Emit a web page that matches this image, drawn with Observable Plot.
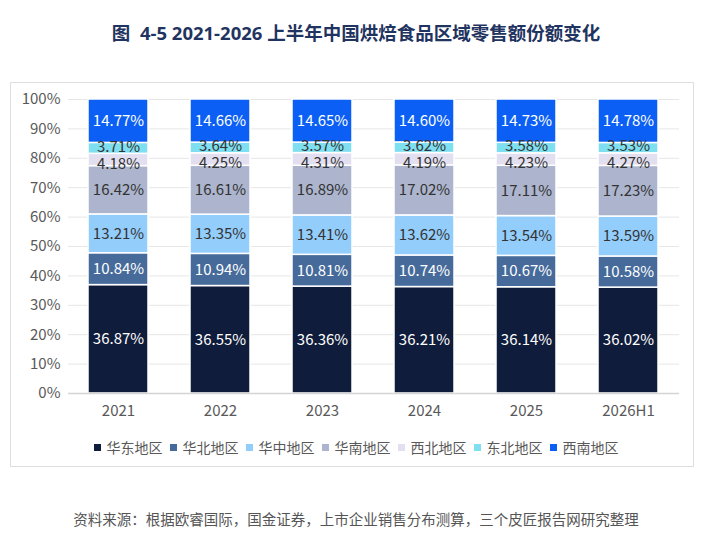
<!DOCTYPE html>
<html>
<head>
<meta charset="utf-8">
<script src="https://cdn.jsdelivr.net/npm/d3@7"></script>
<script src="https://cdn.jsdelivr.net/npm/@observablehq/plot@0.6"></script>
<style>
  body { margin: 0; background: #fff; }
  #page { position: relative; width: 712px; height: 544px; font-family: "Noto Sans CJK SC", sans-serif; }
  #title { position: absolute; top: 20px; left: 0; width: 712px; text-align: center; font-family: "Open Sans", "Noto Sans CJK SC", sans-serif; font-weight: 700; font-size: 18.5px; color: #1f3460; line-height: 26px; }
  #box { position: absolute; left: 10px; top: 82px; width: 684px; height: 385px; border: 1.5px solid #dedede; box-sizing: border-box; }
  #chart { position: absolute; left: 0; top: 82px; }
  #legend { position: absolute; top: 436px; left: 0; width: 712px; display: flex; justify-content: center; font-size: 14px; color: #595959; line-height: 22px; }
  #legend .item { display: flex; align-items: center; margin: 0 3.5px; }
  #legend .sw { width: 7px; height: 7px; margin-right: 6px; }
  #source { position: absolute; top: 508px; left: 0; width: 712px; text-align: center; font-size: 14.5px; color: #555; line-height: 22px; }
</style>
</head>
<body>
<div id="page">
  <div id="title">图&nbsp; 4-5 2021-2026 上半年中国烘焙食品区域零售额份额变化</div>
  <div id="box"></div>
  <div id="chart"></div>
  <div id="legend"></div>
  <div id="source">资料来源：根据欧睿国际，国金证券，上市企业销售分布测算，三个皮匠报告网研究整理</div>
</div>
<script>
const years = ["2021", "2022", "2023", "2024", "2025", "2026H1"];
const regions = ["华东地区", "华北地区", "华中地区", "华南地区", "西北地区", "东北地区", "西南地区"];
const colors = ["#0f1c3b", "#466b9b", "#93cdfb", "#acb5cd", "#e2dff0", "#7ddff0", "#0b5ff4"];
const darkRegions = ["华东地区", "华北地区", "西南地区"];

const east      = [36.87, 36.55, 36.36, 36.21, 36.14, 36.02];
const north     = [10.84, 10.94, 10.81, 10.74, 10.67, 10.58];
const central   = [13.21, 13.35, 13.41, 13.62, 13.54, 13.59];
const south     = [16.42, 16.61, 16.89, 17.02, 17.11, 17.23];
const northwest = [4.18, 4.25, 4.31, 4.19, 4.23, 4.27];
const northeast = [3.71, 3.64, 3.57, 3.62, 3.58, 3.53];
const southwest = [14.77, 14.66, 14.65, 14.60, 14.73, 14.78];

const yTicks = [0, 10, 20, 30, 40, 50, 60, 70, 80, 90, 100];

const series = [east, north, central, south, northwest, northeast, southwest];
const data = [];
years.forEach((yr, i) => {
  regions.forEach((r, j) => {
    data.push({ year: yr, region: r, value: series[j][i] });
  });
});

const font = "Noto Sans CJK SC, sans-serif";
const fmt = d => d.value.toFixed(2) + "%";

function labels(pick, dy) {
  return Plot.text(data, Plot.stackY({
    x: "year", y: "value", z: "region",
    text: d => pick(d.region) ? fmt(d) : null,
    fill: d => darkRegions.includes(d.region) ? "white" : "#333333",
    fontSize: 15,
    dy
  }));
}

const chart = Plot.plot({
  width: 712,
  height: 343,
  marginTop: 17,
  marginBottom: 32,
  marginLeft: 68,
  marginRight: 33,
  style: { fontFamily: font, background: "transparent" },
  x: { domain: years, paddingInner: 0.41, paddingOuter: 0.19, label: null },
  y: { domain: [0, 100], label: null },
  color: { domain: regions, range: colors },
  marks: [
    Plot.gridY(yTicks, { stroke: "#e6e6e6", strokeOpacity: 1, strokeWidth: 1 }),
    Plot.axisY(yTicks, { tickSize: 0, tickPadding: 8, tickFormat: d => d + "%", fontSize: 15, fill: "#595959", label: null }),
    Plot.axisX({ tickSize: 0, tickPadding: 12, fontSize: 15, fill: "#595959", label: null }),
    Plot.barY(data, { x: "year", y: "value", z: "region", fill: "region", stroke: "white", strokeWidth: 1.5 }),
    Plot.ruleY([0], { stroke: "#d4d4d4", strokeWidth: 1.5 }),
    labels(r => r !== "西北地区" && r !== "东北地区", 0),
    labels(r => r === "西北地区", 4),
    labels(r => r === "东北地区", -1.5)
  ]
});
document.getElementById("chart").appendChild(chart);

const legend = document.getElementById("legend");
regions.forEach((r, i) => {
  const item = document.createElement("div");
  item.className = "item";
  const sw = document.createElement("span");
  sw.className = "sw";
  sw.style.background = colors[i];
  const label = document.createElement("span");
  label.textContent = r;
  item.appendChild(sw);
  item.appendChild(label);
  legend.appendChild(item);
});
</script>
</body>
</html>
